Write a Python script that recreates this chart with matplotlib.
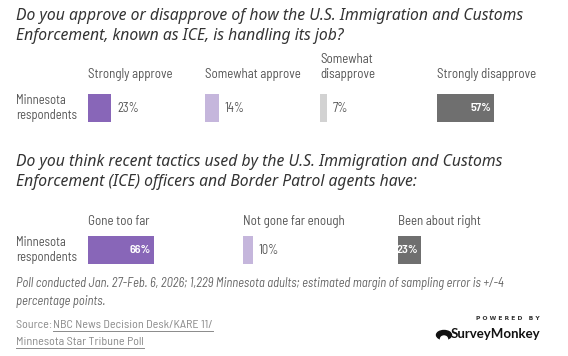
import matplotlib.pyplot as plt
from matplotlib import font_manager
from matplotlib.patches import Ellipse

# question 1
q1_title = ("Do you approve or disapprove of how the U.S. Immigration and Customs\n"
            "Enforcement, known as ICE, is handling its job?")
q1_categories = ["Strongly approve", "Somewhat approve", "Somewhat\ndisapprove", "Strongly disapprove"]
q1_values = [23, 14, 7, 57]

# question 2
q2_title = ("Do you think recent tactics used by the U.S. Immigration and Customs\n"
            "Enforcement (ICE) officers and Border Patrol agents have:")
q2_categories = ["Gone too far", "Not gone far enough", "Been about right"]
q2_values = [66, 10, 23]

row_label = "Minnesota\nrespondents"
note = ("Poll conducted Jan. 27-Feb. 6, 2026; 1,229 Minnesota adults; estimated margin of sampling error is +/-4\n"
        "percentage points.")
source_lines = ["NBC News Decision Desk/KARE 11/", "Minnesota Star Tribune Poll"]

q1_colors = ["#8866b8", "#c5b6dc", "#d2d2d2", "#6f6f6f"]
q1_inside = [False, False, False, True]
q2_colors = ["#8866b8", "#c5b6dc", "#6f6f6f"]
q2_inside = [True, False, True]

W, H = 568, 356
PX = 1.0  # pixels per percent
TITLE_C, TEXT_C = "#333333", "#555555"
LBL_FONT = ["Barlow Semi Condensed", "DejaVu Sans"]

# title face: pick a real italic file (file name says Italic) so the slant shows
_italic = sorted(f.fname for f in font_manager.fontManager.ttflist
                 if f.name == "Noto Sans" and "Italic" in f.fname
                 and "Bold" not in f.fname and "Light" not in f.fname)
if _italic:
    TITLE_FP = font_manager.FontProperties(fname=_italic[0], size=11.3)
else:
    TITLE_FP = font_manager.FontProperties(family="DejaVu Sans", style="oblique", size=10.8)

fig = plt.figure(figsize=(W / 100, H / 100), dpi=100)
ax = fig.add_axes([0, 0, 1, 1])
ax.set_xlim(0, W)
ax.set_ylim(H, 0)
ax.axis("off")


def draw_block(title, title_y, cats, vals, colors, inside, col_x, cat_y, bar_y):
    ax.text(16, title_y, title, fontproperties=TITLE_FP, color=TITLE_C,
            va="top", linespacing=1.3)
    ax.text(16, bar_y + 14, row_label, fontsize=9.0, color=TEXT_C, va="center",
            linespacing=1.3, family=LBL_FONT)
    for x0, cat, v, c, ins in zip(col_x, cats, vals, colors, inside):
        ax.text(x0, cat_y, cat, fontsize=9.3, color=TEXT_C, va="bottom",
                linespacing=1.2, family=LBL_FONT)
        ax.barh([bar_y + 14], [v * PX], left=x0, height=28, color=c)
        if ins:
            ax.text(x0 + v * PX - 3, bar_y + 14, f"{v}%", fontsize=8.8, color="white",
                    fontweight="semibold", ha="right", va="center", family=LBL_FONT)
        else:
            ax.text(x0 + v * PX + 6, bar_y + 14, f"{v}%", fontsize=9.0, color=TEXT_C,
                    ha="left", va="center", family=LBL_FONT)


draw_block(q1_title, 8, q1_categories, q1_values, q1_colors, q1_inside,
           [88, 205, 320, 437], 81, 94)
draw_block(q2_title, 154, q2_categories, q2_values, q2_colors, q2_inside,
           [88, 243, 398], 228, 236)

ax.text(16, 277, note, fontsize=9.1, style="italic", color="#666666", va="top",
        linespacing=1.45, family=LBL_FONT)
ax.text(16, 325, "Source: ", fontsize=8.7, color="#8a8a8a", va="center", family=LBL_FONT)
src1 = ax.text(53, 325, source_lines[0], fontsize=8.7, color="#8a8a8a", va="center",
               family=LBL_FONT)
src2 = ax.text(16, 342, source_lines[1], fontsize=8.7, color="#8a8a8a", va="center",
               family=LBL_FONT)

# underline the source link text
fig.canvas.draw()
inv = ax.transData.inverted()
for t in (src1, src2):
    bb = t.get_window_extent()
    (x0, _), (x1, _) = inv.transform([[bb.x0, bb.y0], [bb.x1, bb.y0]])
    y = t.get_position()[1] + 6
    ax.plot([x0, x1], [y, y], color="#8a8a8a", lw=0.7)

# SurveyMonkey logo
ax.text(540, 318, "P O W E R E D   B Y", fontsize=4.3, color="#333333", ha="right",
        va="center", fontweight="bold", family="DejaVu Sans")
ax.text(540, 334, "SurveyMonkey", fontsize=9.5, color="#111111", ha="right",
        va="center", fontweight="bold", family="Lato")
ax.add_patch(Ellipse((444, 335), 15, 9, color="#111111"))
ax.add_patch(Ellipse((444, 339), 7, 6, color="white"))

fig.savefig("out.png", dpi=100)
